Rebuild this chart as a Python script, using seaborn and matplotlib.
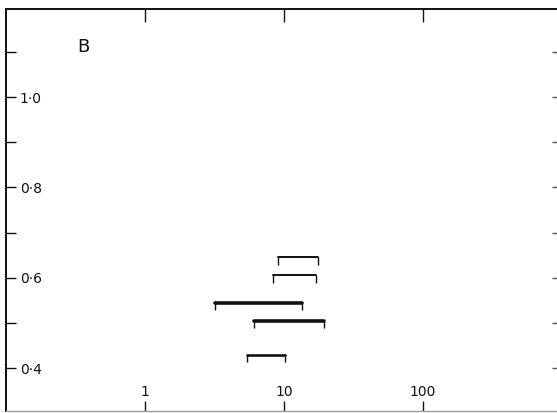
import pandas as pd
import numpy as np
import matplotlib
matplotlib.use("Agg")
import matplotlib.pyplot as plt
import seaborn as sns

# Interval data (panel B)
bar_low = [9.0, 8.3, 3.2, 6.1, 5.4]
bar_high = [17.5, 17.0, 13.5, 19.5, 10.2]
bar_y = [0.645, 0.605, 0.545, 0.505, 0.43]
bar_weight = ["thin", "thin", "thick", "thick", "medium"]

x_ticks = [1, 10, 100]
x_labels = ["1", "10", "100"]
y_major = [0.4, 0.6, 0.8, 1.0]
y_labels = ["0·4", "0·6", "0·8", "1·0"]
y_minor = [0.5, 0.7, 0.9, 1.1]

sns.set_style("white")
plt.rcParams["font.family"] = ["DejaVu Sans"]

ink = "#111111"

fig = plt.figure(figsize=(5.57, 4.13), dpi=100)
ax = fig.add_axes([6 / 557, 2 / 413, 551 / 557, 402 / 413])
ax.set_xscale("log")

# long-form table: two points per interval
rows = []
for i, (lo, hi, y, w) in enumerate(zip(bar_low, bar_high, bar_y, bar_weight)):
    rows.append({"bar": i, "x": lo, "y": y, "weight": w})
    rows.append({"bar": i, "x": hi, "y": y, "weight": w})
df = pd.DataFrame(rows)

sns.lineplot(
    data=df,
    x="x",
    y="y",
    units="bar",
    estimator=None,
    sort=False,
    size="weight",
    sizes={"thin": 1.4, "medium": 1.9, "thick": 2.6},
    color=ink,
    legend=False,
    ax=ax,
)

# small end ticks hanging down from each interval
drop = 0.016
ax.vlines(bar_low + bar_high, np.array(bar_y * 2) - drop, np.array(bar_y * 2),
          color=ink, linewidth=1.0)

ax.set_xlim(0.1, 920)
ax.set_ylim(0.305, 1.195)
ax.set_xlabel("")
ax.set_ylabel("")

# x ticks: inside, labels above the tick marks
ax.set_xticks(x_ticks, x_labels, va="bottom", fontsize=10, color=ink)
ax.xaxis.set_minor_locator(matplotlib.ticker.NullLocator())
ax.tick_params(axis="x", which="major", direction="in", length=7, width=1,
               pad=-9, bottom=True, top=False, color=ink)

# y ticks: inside, labels inside the frame
ax.set_yticks(y_major, y_labels, ha="left", fontsize=10, color=ink)
ax.set_yticks(y_minor, minor=True)
ax.tick_params(axis="y", which="both", direction="in", length=7, width=1,
               pad=-10, left=True, right=False, color=ink)

# top ticks
top = ax.secondary_xaxis("top")
top.set_xticks(x_ticks, ["", "", ""])
top.xaxis.set_minor_locator(matplotlib.ticker.NullLocator())
top.tick_params(axis="x", direction="in", length=9.5, width=1, color=ink)
top.spines["top"].set_visible(False)

# short ticks along the right edge
right = ax.secondary_yaxis("right")
right.set_yticks(y_major + y_minor, [""] * 8)
right.tick_params(axis="y", direction="in", length=3.5, width=1, color="#555555")
right.spines["right"].set_visible(False)

for side in ["left", "top"]:
    ax.spines[side].set_color(ink)
    ax.spines[side].set_linewidth(1.4)
ax.spines["bottom"].set_color("#999999")
ax.spines["bottom"].set_linewidth(1.0)
ax.spines["right"].set_visible(False)

ax.text(0.14, 0.905, "B", transform=ax.transAxes, fontsize=13,
        ha="center", va="center", color=ink)

fig.savefig("out.png", dpi=100)
plt.close(fig)
